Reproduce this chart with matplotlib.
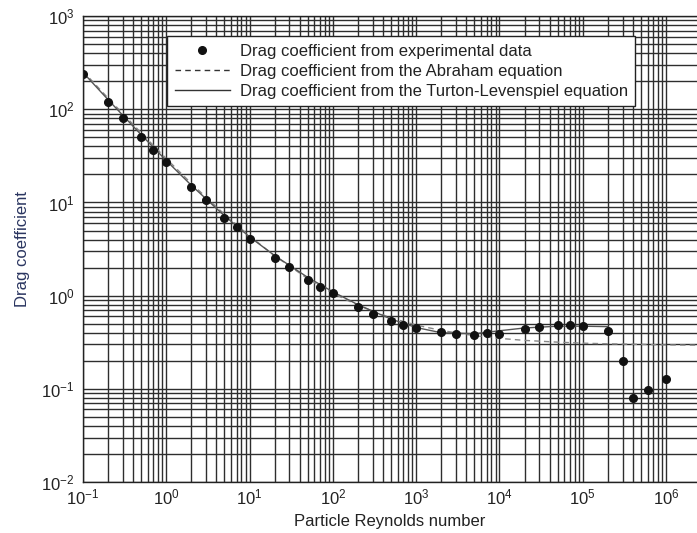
import matplotlib
matplotlib.use("Agg")
import matplotlib.pyplot as plt
from matplotlib.ticker import LogLocator, FixedLocator, NullFormatter
import numpy as np

plt.rcParams['font.family'] = ['Liberation Sans', 'DejaVu Sans']
plt.rcParams['mathtext.default'] = 'regular'

re_exp = [0.1, 0.2, 0.3, 0.5, 0.7, 1, 2, 3, 5, 7, 10, 20, 30, 50, 70, 100,
          200, 300, 500, 700, 1e3, 2e3, 3e3, 5e3, 7e3, 1e4, 2e4, 3e4, 5e4, 7e4,
          1e5, 2e5, 3e5, 4e5, 6e5, 1e6]
cd_exp = [240, 120, 81, 50, 36.7, 27, 14.5, 10.6, 6.8, 5.4, 4.1, 2.55, 2.04, 1.47, 1.25, 1.06,
          0.75, 0.64, 0.535, 0.49, 0.45, 0.41, 0.39, 0.375, 0.40, 0.39, 0.44, 0.46, 0.49, 0.48,
          0.47, 0.42, 0.20, 0.080, 0.096, 0.128]

# Abraham equation curve (dashed)
re_abr = [0.1, 0.2, 0.5, 1, 2, 5, 10, 20, 50, 100, 200, 500, 1e3, 2e3, 5e3,
          1e4, 2e4, 5e4, 1e5, 2e5, 5e5, 1e6, 2.5e6]
cd_abr = [257, 132, 55.8, 29.6, 16.0, 7.46, 4.37, 2.68, 1.52, 1.06, 0.787, 0.577, 0.484, 0.423, 0.372,
          0.348, 0.331, 0.317, 0.309, 0.304, 0.300, 0.296, 0.294]

# Turton-Levenspiel equation curve (solid)
re_tl = [0.1, 0.2, 0.5, 1, 2, 5, 10, 20, 50, 100, 200, 500, 1e3, 2e3, 5e3,
         1e4, 2e4, 5e4, 1e5, 2e5]
cd_tl = [249, 127, 53.3, 28.2, 15.3, 7.19, 4.28, 2.69, 1.57, 1.10, 0.80, 0.56, 0.455, 0.40, 0.39,
         0.42, 0.45, 0.47, 0.47, 0.465]

fig = plt.figure(figsize=(6.97, 5.33), dpi=100)
ax = fig.add_axes([0.119, 0.0957, 0.881, 0.874])

ax.set_xscale('log')
ax.set_yscale('log')
ax.set_xlim(0.1, 2.35e6)
ax.set_ylim(1e-2, 1e3)

ax.xaxis.set_major_locator(FixedLocator([1e-1, 1e0, 1e1, 1e2, 1e3, 1e4, 1e5, 1e6]))
minor_x = [m * 10.0 ** k for k in range(-1, 6) for m in range(2, 10)]
ax.xaxis.set_minor_locator(FixedLocator(minor_x))
ax.yaxis.set_major_locator(LogLocator(base=10, numticks=10))
ax.yaxis.set_minor_locator(LogLocator(base=10, subs=np.arange(2, 10), numticks=20))
ax.xaxis.set_minor_formatter(NullFormatter())
ax.yaxis.set_minor_formatter(NullFormatter())

ax.grid(True, which='both', color='#2e2e2e', linewidth=1.0)
ax.set_axisbelow(True)
ax.tick_params(which='both', length=0, labelsize=12, colors='#222222')
ax.tick_params(axis='x', pad=4)
ax.tick_params(axis='y', pad=6)

ax.spines['right'].set_visible(False)
for side in ['left', 'bottom', 'top']:
    ax.spines[side].set_color('#222222')
    ax.spines[side].set_linewidth(1.0)

ax.plot(re_abr, cd_abr, linestyle=(0, (4, 3)), color='#888888', linewidth=1.0,
        label='Drag coefficient from the Abraham equation')
ax.plot(re_tl, cd_tl, linestyle='-', color='#555555', linewidth=1.0,
        label='Drag coefficient from the Turton-Levenspiel equation')
ax.plot(re_exp, cd_exp, 'o', color='#111111', markersize=5.5, linestyle='none',
        label='Drag coefficient from experimental data')

handles, labels = ax.get_legend_handles_labels()
order = [2, 0, 1]
leg = ax.legend([handles[i] for i in order], [labels[i] for i in order],
                loc='upper left', bbox_to_anchor=(0.137, 0.957), borderaxespad=0,
                fontsize=12, frameon=True, fancybox=False, edgecolor='#222222',
                framealpha=1, handlelength=3.3, handletextpad=0.6,
                borderpad=0.45, labelspacing=0.3)
leg.get_frame().set_linewidth(1.0)
leg.legend_handles[1].set_color('#333333')
leg.legend_handles[2].set_color('#333333')
for t in leg.get_texts():
    t.set_color('#222222')

ax.set_xlabel('Particle Reynolds number', fontsize=12, color='#222222', labelpad=5)
ax.set_ylabel('Drag coefficient', fontsize=12, color='#2a3560', labelpad=8)

fig.savefig('out.png', dpi=100)
